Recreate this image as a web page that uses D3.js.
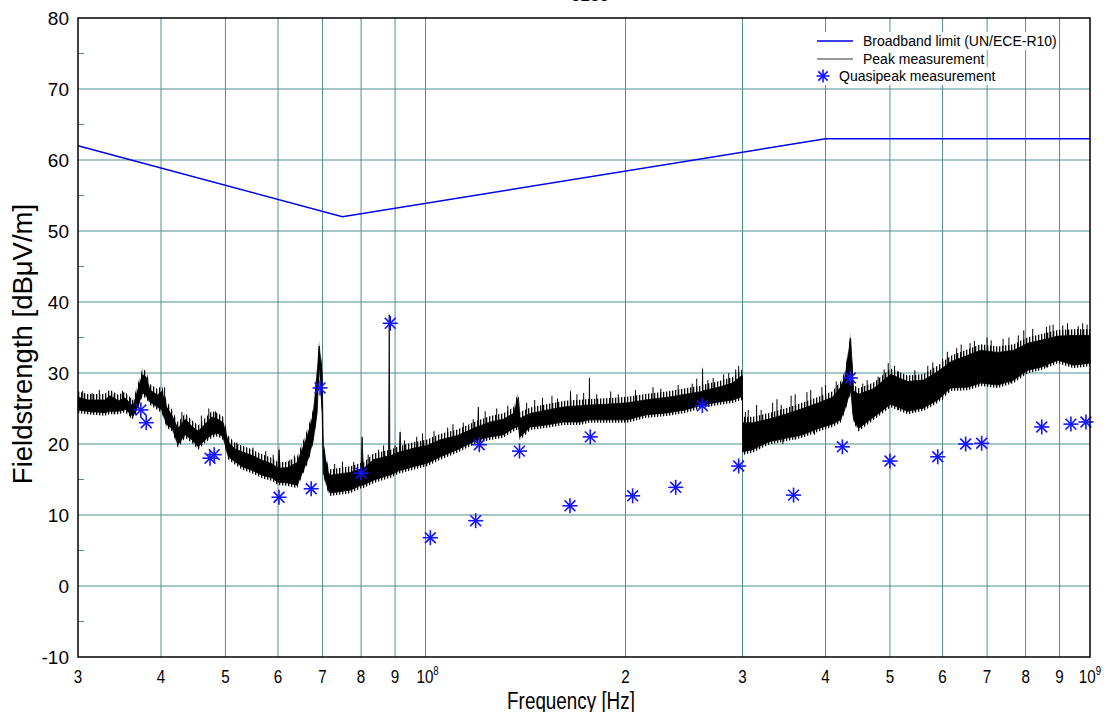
<!DOCTYPE html>
<meta charset="utf-8">
<style>
body {
  margin: 0;
  background: #fff;
  font-family: 'Liberation Sans', Arial, sans-serif;
}
.grid line {
  stroke: #4f8f8f;
  stroke-width: 1px;
}
.frame {
  fill: none;
  stroke: #000;
  stroke-width: 1.5px;
}
.limit {
  fill: none;
  stroke: #0000ee;
  stroke-width: 1.5px;
}
.peak {
  fill: #000;
  stroke: #000;
  stroke-width: 0.8px;
}
.halo {
  fill: url(#noise);
  stroke: none;
}
.spike {
  stroke: #000;
  stroke-width: 1px;
}
.qp line {
  stroke: #1414ff;
  stroke-width: 1.6px;
}
.tick-label {
  font-size: 19px;
  fill: #000;
}
</style>
<body>
<script src="https://d3js.org/d3.v7.min.js"></script>
<script>

// ---- data (frequencies in MHz, levels in dBuV/m) ----

// broadband limit (UN/ECE-R10)
var limitFreq = [30, 75, 400, 1000];
var limitLevel = [62, 52, 63, 63];

// peak measurement, read as lower / upper edge of the solid trace
var peakFreq = [30, 31, 32.9, 33.5, 34.5, 35.3, 36.3, 36.9, 37.5, 38.0, 38.5, 39.5, 40.1, 40.8,
  41.6, 42.4, 43.5, 44.5, 45.5, 46.6, 47.7, 48.7, 49.6, 50.5, 51.7, 53.0, 54.8, 56.8, 58.8,
  60.0, 60.2, 60.4, 62.1, 64.1, 65.5, 66.6, 67.8, 68.7, 69.2, 69.9, 70.2, 71.4, 71.9, 77.0,
  80.0, 80.3, 80.6, 83.5, 88.0, 88.2, 88.4, 91.4, 91.6, 91.8, 95.9, 100.6, 105.3, 111.7,
  116.8, 119.9, 120.1, 120.3, 125.2, 131.0, 135.6, 138.0, 138.6, 139.9, 143.8, 152.6, 161.3,
  165.1, 165.3, 165.5, 171.0, 176.3, 176.5, 176.7, 186.6, 201.3, 214.3, 232.1, 246.2, 261.0,
  261.2, 261.4, 276.0, 289.8, 297.9, 299.9, 300.1, 310.6, 328.3, 348.3, 369.4, 390.5, 409.9,
  421.4, 428.0, 436.3, 440.8, 448.5, 472.5, 501.3, 531.8, 562.1, 590.0, 617.3, 654.8, 684.9,
  726.3, 767.7, 806.0, 843.2, 894.5, 945.4, 1000];
var peakLo = [24.8, 24.6, 24.4, 24.6, 24.6, 24.9, 23.9, 25.2, 27.2, 26.8, 25.9, 25.2, 24.8, 22.7,
  22.2, 19.9, 21.3, 20.6, 19.6, 20.6, 21.3, 21.5, 21.0, 18.2, 17.5, 16.8, 16.3, 15.6, 15.2,
  14.6, 14.6, 14.6, 14.5, 14.2, 16.3, 17.9, 20.6, 24.4, 31.4, 24.5, 15.9, 13.5, 13.1, 13.5,
  14.2, 14.2, 14.2, 14.9, 15.6, 15.6, 15.6, 16.3, 16.3, 16.3, 16.8, 17.3, 18.2, 19.2,
  20.1, 20.6, 20.6, 20.6, 21.0, 21.3, 22.2, 22.5, 21.0, 21.3, 22.4, 22.7, 23.1,
  23.1, 23.1, 23.1, 23.1, 23.4, 23.4, 23.4, 23.4, 23.4, 24.1, 24.4, 24.8, 25.5,
  25.5, 25.5, 25.9, 26.2, 26.6, 26.6, 18.9, 19.2, 20.3, 20.8, 21.3, 22.2, 22.8,
  23.4, 25.0, 27.6, 23.4, 22.2, 23.8, 25.6, 24.6, 25.1, 26.2, 27.9, 28.0, 28.6,
  28.3, 29.0, 30.4, 30.8, 31.8, 31.1, 31.4];
var peakHi = [26.6, 26.2, 26.2, 26.8, 26.1, 26.5, 25.3, 27.6, 29.8, 29.4, 27.6, 26.9, 27.4, 25.2,
  23.9, 22.2, 23.5, 22.5, 21.8, 22.8, 23.8, 23.5, 23.0, 20.3, 19.3, 18.9, 18.4, 17.7, 17.2,
  16.6, 19.2, 16.6, 16.7, 17.4, 19.7, 21.5, 24.2, 30.0, 33.8, 30.0, 19.4, 16.0, 15.6, 16.0,
  16.5, 21.0, 16.5, 17.8, 18.3, 38.2, 18.3, 18.9, 21.7, 18.9, 19.4, 19.8, 20.6, 21.2,
  22.0, 22.5, 25.2, 22.5, 23.1, 23.5, 24.3, 26.6, 23.6, 23.8, 24.3, 24.8, 25.2,
  25.3, 27.4, 25.3, 25.4, 25.5, 29.3, 25.5, 25.6, 25.8, 26.2, 26.6, 27.0, 27.4,
  30.6, 27.5, 28.0, 28.6, 29.5, 29.6, 23.0, 23.0, 23.5, 24.2, 25.0, 25.8, 26.6,
  28.0, 29.5, 34.9, 27.5, 27.0, 27.8, 29.8, 28.8, 29.0, 30.2, 31.6, 32.5, 33.2,
  32.9, 33.2, 34.2, 34.6, 35.2, 35.3, 35.3];

// single noise spikes above the trace (top level)
var spikeFreq = [30.5, 31.5, 32.3, 34.0, 35.0, 36.0, 40.5, 43.0, 46.0, 47.2, 48.3, 52, 55, 57.5,
  59, 62.5, 63.5, 65, 73, 75, 78, 82, 85, 86.5, 90, 93, 97, 99, 103, 108, 110, 114, 118, 123,
  128, 133, 137, 142, 146, 150, 155, 158, 169, 173, 181, 190, 195, 207, 220, 226, 240, 252,
  256, 266, 271, 281, 286, 293, 296, 303, 306, 315, 320, 333, 338, 343, 355, 360, 375, 380,
  395, 400, 415, 455, 462, 480, 490, 497, 508, 515, 545, 570, 580, 600, 610, 630, 640, 660,
  670, 700, 710, 740, 755, 780, 795, 820, 860, 870, 880, 910, 925, 960, 975, 990];
var spikeTop = [27.5, 27.2, 27.6, 27.0, 27.5, 26.5, 28.0, 24.5, 24.0, 25.0, 24.6, 20.2, 19.5, 19.0,
  18.5, 17.8, 18.4, 18.8, 17.2, 17.5, 17.5, 18.5, 19.2, 19.8, 19.8, 20.5, 21.0, 21.5, 21.8, 22.3,
  22.8, 23.0, 23.5, 24.6, 25.0, 25.4, 26.0, 25.8, 26.2, 26.5, 26.8, 26.4, 27.0, 27.2, 27.0, 27.4,
  27.0, 27.6, 28.0, 27.8, 28.3, 28.5, 29.2, 29.0, 29.3, 29.8, 30.0, 30.5, 31.0, 24.5, 24.8, 25.5,
  24.8, 25.8, 26.3, 25.5, 26.8, 27.0, 27.3, 27.6, 28.0, 28.3, 28.8, 28.5, 29.0, 29.5, 30.5, 31.4,
  31.0, 30.2, 30.4, 31.0, 31.5, 32.0, 33.0, 33.5, 34.0, 34.2, 34.5, 35.0, 34.6, 34.8, 35.0, 35.3,
  36.0, 36.2, 36.5, 36.7, 36.8, 36.7, 37.0, 36.6, 37.0, 36.8];

// single dips below the trace (bottom level)
var dipFreq = [302, 305, 318, 345, 360, 385, 515, 545, 560, 600, 760, 860];
var dipBottom = [18.5, 19.0, 19.3, 20.0, 20.6, 21.3, 24.8, 24.6, 24.9, 26.2, 28.6, 30.8];

// quasipeak measurement points
var qpFreq = [37.3, 38.0, 47.4, 48.1, 60.2, 67.3, 69.4, 80.0, 88.5, 101.7, 119.0, 120.5, 138.5,
  165.0, 177.0, 205.0, 238.0, 261.0, 296.0, 358.0, 424.0, 436.0, 500.0, 590.0, 650.0, 687.0,
  846.0, 936.0, 986.0];
var qpLevel = [24.8, 23.0, 18.0, 18.5, 12.5, 13.7, 27.9, 15.9, 37.0, 6.8, 9.2, 19.9, 19.0,
  11.3, 21.0, 12.7, 13.9, 25.4, 16.9, 12.8, 19.6, 29.3, 17.6, 18.2, 20.0, 20.1,
  22.4, 22.8, 23.1];

// axis ticks
var xTicks = [30, 40, 50, 60, 70, 80, 90, 100, 200, 300, 400, 500, 600, 700, 800, 900, 1000];
var xTickText = ["3", "4", "5", "6", "7", "8", "9", "10^8", "2", "3", "4", "5", "6", "7", "8", "9", "10^9"];
var yTicks = [-10, 0, 10, 20, 30, 40, 50, 60, 70, 80];
var yMinor = [-5, 5, 15, 25, 35, 45, 55, 65, 75];

// legend entries
var legendText = ["Broadband limit (UN/ECE-R10)", "Peak measurement", "Quasipeak measurement"];

// ---- layout ----
var width = 1114, height = 712;
var plot = {left: 78, right: 1090, top: 18, bottom: 657};

var x = d3.scaleLog().domain([30e6, 1e9]).range([plot.left, plot.right]);
var y = d3.scaleLinear().domain([-10, 80]).range([plot.bottom, plot.top]);

var svg = d3.select("body").append("svg")
    .attr("width", width)
    .attr("height", height);

// hatch used to fake the dense noise at the edges of the trace
var pat = svg.append("defs").append("pattern")
    .attr("id", "noise")
    .attr("patternUnits", "userSpaceOnUse")
    .attr("width", 3)
    .attr("height", 6);
pat.append("rect")
    .attr("width", 1.3)
    .attr("height", 6)
    .attr("fill", "#000");

// title, mostly cut off at the top of the picture
svg.append("text")
    .attr("x", 590)
    .attr("y", 1)
    .attr("text-anchor", "middle")
    .style("font-size", "17px")
    .text("0230");

// grid lines
var grid = svg.append("g").attr("class", "grid");
grid.selectAll(".vx")
    .data(xTicks.slice(1, -1))
  .enter().append("line")
    .attr("x1", function(d) { return x(d * 1e6); })
    .attr("x2", function(d) { return x(d * 1e6); })
    .attr("y1", plot.top)
    .attr("y2", plot.bottom);
grid.selectAll(".hy")
    .data(yTicks.slice(1, -1))
  .enter().append("line")
    .attr("x1", plot.left)
    .attr("x2", plot.right)
    .attr("y1", function(d) { return y(d); })
    .attr("y2", function(d) { return y(d); });

// minor ticks on the left axis
grid.selectAll(".mt")
    .data(yMinor)
  .enter().append("line")
    .attr("x1", plot.left)
    .attr("x2", plot.left + 6)
    .attr("y1", function(d) { return y(d); })
    .attr("y2", function(d) { return y(d); });

// limit line
var limitLine = d3.line()
    .x(function(d, i) { return x(limitFreq[i] * 1e6); })
    .y(function(d) { return y(d); });

// peak trace: hatched halo, then solid band between lower and upper edge
var haloArea = d3.area()
    .x(function(d, i) { return x(peakFreq[i] * 1e6); })
    .y0(function(d, i) { return y(peakLo[i]) + 3; })
    .y1(function(d) { return y(d) - 6; });

var peakArea = d3.area()
    .x(function(d, i) { return x(peakFreq[i] * 1e6); })
    .y0(function(d, i) { return y(peakLo[i]); })
    .y1(function(d) { return y(d); });

svg.append("path")
    .datum(peakHi)
    .attr("class", "halo")
    .attr("d", haloArea);

svg.append("path")
    .datum(peakHi)
    .attr("class", "peak")
    .attr("d", peakArea);

// noise spikes and dips hanging off the band
svg.selectAll(".spike")
    .data(spikeTop)
  .enter().append("line")
    .attr("class", "spike")
    .attr("x1", function(d, i) { return x(spikeFreq[i] * 1e6); })
    .attr("x2", function(d, i) { return x(spikeFreq[i] * 1e6); })
    .attr("y1", function(d) { return y(d); })
    .attr("y2", function(d) { return y(d) + 20; });
svg.selectAll(".dip")
    .data(dipBottom)
  .enter().append("line")
    .attr("class", "spike")
    .attr("x1", function(d, i) { return x(dipFreq[i] * 1e6); })
    .attr("x2", function(d, i) { return x(dipFreq[i] * 1e6); })
    .attr("y1", function(d) { return y(d); })
    .attr("y2", function(d) { return y(d) - 16; });

svg.append("path")
    .datum(limitLevel)
    .attr("class", "limit")
    .attr("d", limitLine);

// asterisk marker
function asterisk(g, r) {
  var k = r * 0.72;
  [[-r, 0, r, 0], [0, -r, 0, r], [-k, -k, k, k], [-k, k, k, -k]]
    .forEach(function(s) {
      g.append("line")
        .attr("x1", s[0]).attr("y1", s[1])
        .attr("x2", s[2]).attr("y2", s[3]);
    });
}

var qp = svg.append("g").attr("class", "qp");
qpLevel.forEach(function(v, i) {
  var m = qp.append("g")
      .attr("transform", "translate(" + x(qpFreq[i] * 1e6) + "," + y(v) + ")");
  asterisk(m, 7.5);
});

// frame
svg.append("rect")
    .attr("class", "frame")
    .attr("x", plot.left)
    .attr("y", plot.top)
    .attr("width", plot.right - plot.left)
    .attr("height", plot.bottom - plot.top);

// y tick labels
svg.selectAll(".ylab")
    .data(yTicks)
  .enter().append("text")
    .attr("class", "tick-label")
    .attr("x", plot.left - 9)
    .attr("y", function(d) { return y(d); })
    .attr("dy", "0.35em")
    .attr("text-anchor", "end")
    .text(function(d) { return d; });

// x tick labels (the original uses a narrow face, so squeeze them)
svg.selectAll(".xlab")
    .data(xTicks)
  .enter().append("text")
    .attr("class", "tick-label")
    .attr("transform", function(d, i) {
      var px = x(d * 1e6);
      if (d === 100) px -= 9;
      if (d === 1000) px += 11;
      return "translate(" + px + ",683) scale(0.8,1)";
    })
    .attr("text-anchor", function(d) {
      return d === 100 ? "start" : (d === 1000 ? "end" : "middle");
    })
    .each(function(d, i) {
      var t = d3.select(this), s = xTickText[i];
      if (s.indexOf("^") > 0) {
        var p = s.split("^");
        t.append("tspan").text(p[0]);
        t.append("tspan").attr("dy", -8).style("font-size", "12px").text(p[1]);
      } else {
        t.text(s);
      }
    });

// axis titles
svg.append("text")
    .attr("transform", "translate(571,709) scale(0.82,1)")
    .attr("text-anchor", "middle")
    .style("font-size", "23px")
    .text("Frequency [Hz]");

svg.append("text")
    .attr("transform", "translate(32," + 344 + ") rotate(-90)")
    .attr("text-anchor", "middle")
    .style("font-size", "27.5px")
    .text("Fieldstrength [dB\u03bcV/m]");

// legend
var legend = svg.append("g").style("font-size", "14px");
var rowY = [41, 59, 76];
legendText.forEach(function(s, i) {
  var tx = i === 2 ? 839 : 863;
  var bg = legend.append("rect").attr("fill", "#fff");
  var t = legend.append("text")
      .attr("x", tx)
      .attr("y", rowY[i])
      .attr("dy", "0.35em")
      .text(s);
  var bb = t.node().getBBox();
  bg.attr("x", 814).attr("y", rowY[i] - 9)
    .attr("width", bb.x + bb.width + 2 - 814).attr("height", 18);
});
legend.append("line")
    .attr("x1", 817).attr("x2", 853)
    .attr("y1", rowY[0]).attr("y2", rowY[0])
    .attr("stroke", "#0000ee").attr("stroke-width", 1.5);
legend.append("line")
    .attr("x1", 817).attr("x2", 853)
    .attr("y1", rowY[1]).attr("y2", rowY[1])
    .attr("stroke", "#333").attr("stroke-width", 1);
var lm = legend.append("g").attr("class", "qp")
    .attr("transform", "translate(823," + rowY[2] + ")");
asterisk(lm, 6.5);

</script>
</body>
